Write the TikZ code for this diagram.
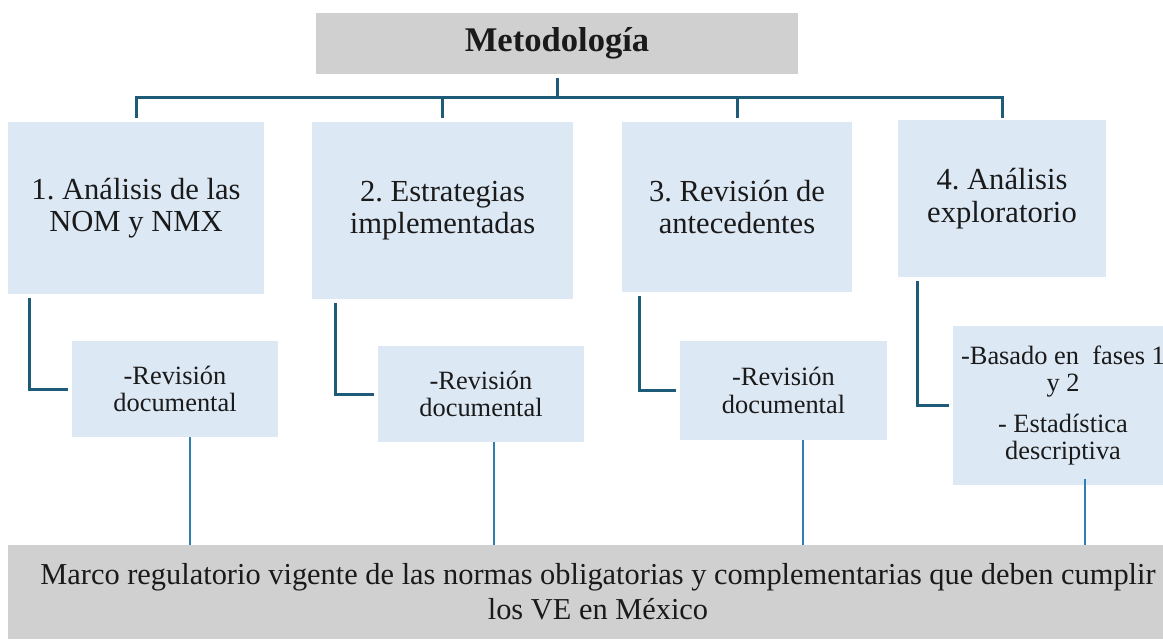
\documentclass[tikz,border=0pt]{standalone}
\usepackage{fontspec}
\setmainfont{Liberation Serif}
\frenchspacing
\definecolor{grayfill}{HTML}{D0D0D0}
\definecolor{bluefill}{HTML}{DDE8F5}
\definecolor{darkline}{HTML}{1E5B78}
\definecolor{thinline}{HTML}{2E80B2}
\definecolor{txt}{HTML}{1A1A1A}
\tikzset{
  graybox/.style={fill=grayfill, draw=none, inner sep=0pt, align=center, text=txt},
  mainbox/.style={fill=bluefill, draw=none, inner sep=0pt, align=center, text=txt, font=\fontsize{15.3}{16.2}\selectfont},
  subbox/.style={fill=bluefill, draw=none, inner sep=0pt, align=center, text=txt, font=\fontsize{13.2}{13.6}\selectfont},
  conn/.style={draw=darkline, line width=1.5pt},
  thin/.style={draw=thinline, line width=0.75pt},
}
\begin{document}
\begin{tikzpicture}[x=0.5pt,y=-0.5pt]
\useasboundingbox (0,0) rectangle (1163,639);
% title
\node[graybox, minimum width=241pt, minimum height=30.5pt, font=\fontsize{17.3}{18}\selectfont\bfseries] (top) at (557,43.5) {Metodología};
% main boxes
\node[mainbox, minimum width=128pt, minimum height=86pt] (b1) at (136,208) {1. Análisis de las\\NOM y NMX};
\node[mainbox, minimum width=130.5pt, minimum height=88.5pt] (b2) at (442.5,210.5) {2. Estrategias\\implementadas};
\node[mainbox, minimum width=115pt, minimum height=85pt] (b3) at (737,207) {3. Revisión de\\antecedentes};
\node[mainbox, minimum width=104pt, minimum height=78.5pt] (b4) at (1002,198.5) {4. Análisis\\exploratorio};
% sub boxes
\node[subbox, minimum width=103pt, minimum height=48pt] (s1) at (175,389) {-Revisión\\documental};
\node[subbox, minimum width=103pt, minimum height=48pt] (s2) at (481,394) {-Revisión\\documental};
\node[subbox, minimum width=103.5pt, minimum height=49.5pt] (s3) at (783.5,390.5) {-Revisión\\documental};
\node[subbox, minimum width=110pt, minimum height=79.5pt] (s4) at (1063,405.5) {-Basado en \ fases 1\\y 2\\[6.5pt]- Estadística\\descriptiva};
% bottom bar
\node[graybox, minimum width=590pt, minimum height=47pt, font=\fontsize{15.2}{17.5}\selectfont] (bar) at (598,592) {Marco regulatorio vigente de las normas obligatorias y complementarias que deben cumplir\\los VE en México};
% tree connectors
\coordinate (bus) at (557,97);
\draw[conn, shorten <=2pt] (top.south) -- (bus);
\draw[conn, shorten <=2pt] (b1.north) |- (bus);
\draw[conn, shorten <=2pt] (b2.north) |- (bus);
\draw[conn, shorten <=2pt] (b3.north) |- (bus);
\draw[conn, shorten <=1pt] (b4.north) |- (bus);
% elbows
\draw[conn, shorten <=2pt, shorten >=2pt] ([xshift=11pt]b1.south west) |- (s1.west);
\draw[conn, shorten <=2pt, shorten >=2pt] ([xshift=12pt]b2.south west) |- (s2.west);
\draw[conn, shorten <=2pt, shorten >=2pt] ([xshift=9pt]b3.south west) |- (s3.west);
\draw[conn, shorten <=2pt, shorten >=2pt] ([xshift=10pt]b4.south west) |- (s4.west);
% thin lines to bar
\draw[thin] ([xshift=7.5pt]s1.south) -- ([xshift=7.5pt]s1.south |- bar.north);
\draw[thin] ([xshift=6.5pt]s2.south) -- ([xshift=6.5pt]s2.south |- bar.north);
\draw[thin] ([xshift=9.75pt]s3.south) -- ([xshift=9.75pt]s3.south |- bar.north);
\draw[thin] ([xshift=11pt,yshift=3pt]s4.south) -- ([xshift=11pt]s4.south |- bar.north);
\end{tikzpicture}
\end{document}
